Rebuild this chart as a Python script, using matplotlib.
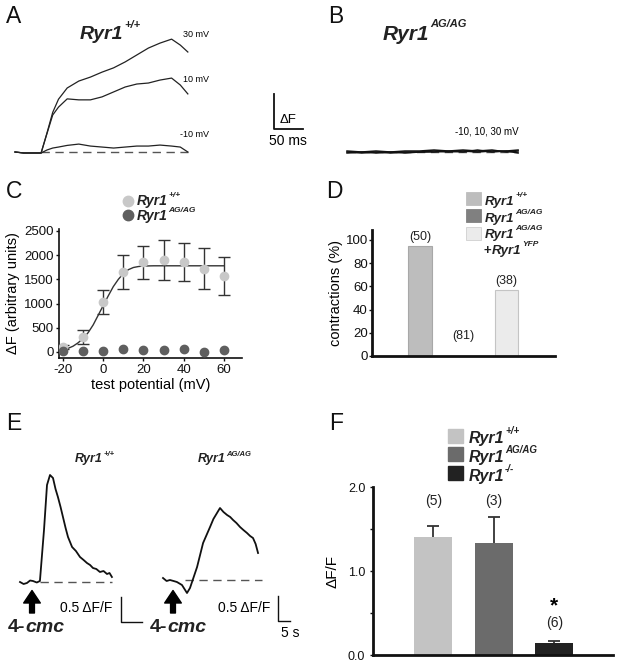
import matplotlib
matplotlib.use("Agg")
import matplotlib.pyplot as plt
from matplotlib.patches import Rectangle

W, H = 620, 663
plt.rcParams["font.family"] = ["Liberation Sans", "DejaVu Sans"]
plt.rcParams["axes.unicode_minus"] = False

# ---- A: Ca2+ transients, Ryr1+/+ (time in ms, dF in scale-bar units) ----
t_a = [0, 15, 30, 45, 55, 65, 75, 90, 110, 130, 150, 170, 190, 210, 230, 250, 270, 285, 298]
a_30mv = [0, -0.03, -0.03, -0.03, 0.57, 1.2, 1.6, 1.94, 2.15, 2.27, 2.42, 2.55, 2.73, 2.94,
          3.15, 3.30, 3.42, 3.24, 3.03]
a_10mv = [0, -0.03, -0.03, -0.03, 0.55, 1.12, 1.36, 1.61, 1.58, 1.58, 1.67, 1.82, 1.97, 2.06,
          2.09, 2.18, 2.24, 2.03, 1.76]
a_m10mv = [0, -0.03, -0.03, -0.03, 0.06, 0.12, 0.15, 0.2, 0.24, 0.18, 0.15, 0.12, 0.15, 0.18,
           0.18, 0.21, 0.18, 0.15, 0.0]

# ---- B: Ryr1 AG/AG, all three voltages flat ----
t_b = [0, 25, 50, 75, 100, 125, 150, 175, 200, 225, 250, 275, 295]
b_1 = [0.03, 0.0, 0.03, 0.0, 0.03, 0.03, 0.06, 0.03, 0.06, 0.03, 0.06, 0.0, 0.03]
b_2 = [0.0, -0.03, 0.0, -0.03, 0.0, 0.0, 0.03, 0.0, 0.03, 0.0, 0.03, 0.03, -0.03]
b_3 = [-0.03, 0.0, -0.03, 0.0, -0.03, 0.0, 0.0, 0.03, 0.0, 0.06, 0.0, 0.03, 0.06]

# ---- C: dF vs test potential ----
v_test = [-20, -10, 0, 10, 20, 30, 40, 50, 60]
f_wt = [110, 310, 1030, 1650, 1850, 1900, 1860, 1720, 1570]
f_wt_err = [40, 135, 240, 350, 335, 405, 400, 420, 400]
f_ag = [20, 20, 20, 70, 50, 40, 60, 10, 40]
fit_v = [-20, -17.5, -15, -12.5, -10, -7.5, -5, -2.5, 0, 2.5, 5, 7.5, 10, 12.5, 15, 17.5, 20,
         25, 30, 40, 50, 60]
fit_f = [40, 75, 120, 190, 280, 400, 560, 760, 960, 1160, 1350, 1500, 1620, 1700, 1745, 1765,
         1775, 1780, 1780, 1780, 1780, 1780]

# ---- D: contractions ----
d_vals = [95, 0, 57]
d_n = ["(50)", "(81)", "(38)"]
d_colors = ["#bdbdbd", "#808080", "#ebebeb"]

# ---- E: 4-cmc responses (time in s, dF/F) ----
t_e_wt = [0, 1.5, 2.9, 4.2, 5.4, 7.0, 8.3, 10.0, 11.25, 12.5, 13.75, 14.8, 15.8, 16.9, 17.9,
          19.0, 20, 21.7, 23.3, 25, 26.5, 27.9, 29.2, 30.4, 31.8, 33.3, 34.8, 36.25, 37.3, 38.3]
e_wt = [0, -0.04, -0.02, 0.03, 0.02, -0.01, 0.02, 1.04, 1.94, 2.14, 2.08, 1.86, 1.70, 1.50,
        1.30, 1.08, 0.90, 0.70, 0.62, 0.50, 0.44, 0.38, 0.34, 0.28, 0.26, 0.20, 0.22, 0.16,
        0.18, 0.10]
t_e_ag = [0, 1.5, 2.9, 4.4, 5.8, 7.9, 10, 11.25, 14.2, 16.7, 19.6, 21.0, 22.5, 23.75, 25.2,
          26.7, 28.0, 29.2, 30.6, 32.1, 33.5, 35, 36.3, 37.5, 38.6, 39.6]
e_ag = [0.08, 0.02, 0.04, 0.02, 0, -0.06, -0.22, -0.12, 0.30, 0.78, 1.10, 1.26, 1.38, 1.48,
        1.40, 1.34, 1.30, 1.24, 1.18, 1.10, 1.04, 0.98, 0.92, 0.88, 0.76, 0.58]

# ---- F: dF/F summary ----
f_labels = ["+/+", "AG/AG", "-/-"]
f_vals = [1.41, 1.33, 0.14]
f_err = [0.12, 0.31, 0.025]
f_n = ["(5)", "(3)", "(6)"]
f_colors = ["#c3c3c3", "#6b6b6b", "#222222"]


fig = plt.figure(figsize=(W / 100, H / 100), dpi=100)


def add_ax(left, top, right, bottom):
    ax = fig.add_axes([left / W, 1 - bottom / H, (right - left) / W, (bottom - top) / H])
    ax.patch.set_visible(False)
    return ax


def style_axis(ax, lw, labelsize, length, pad):
    for s in ("top", "right"):
        ax.spines[s].set_visible(False)
    for s in ("left", "bottom"):
        ax.spines[s].set_linewidth(lw)
        ax.spines[s].set_color("#111111")
    ax.tick_params(labelsize=labelsize, length=length, width=1, pad=pad, colors="#111111")


trace_kw = dict(color="#222222", lw=0.9)
dash_kw = dict(color="#555555", lw=1.0, dashes=(6, 4))

# panel A
A_T0, A_MSPX, A_BASE, A_UPX = 15, 50 / 29, 152, 33
axA = add_ax(10, 20, 320, 170)
axA.set_xlim((10 - A_T0) * A_MSPX, (320 - A_T0) * A_MSPX)
axA.set_ylim((A_BASE - 170) / A_UPX, (A_BASE - 20) / A_UPX)
axA.plot([t_a[3], t_a[-1]], [0, 0], **dash_kw)
for tr in (a_30mv, a_10mv, a_m10mv):
    axA.plot(t_a, tr, **trace_kw)
sb_x = (274 - A_T0) * A_MSPX
axA.plot([sb_x, sb_x, sb_x + 50], [1.75, 0.7, 0.7], color="#111111", lw=1.3)
axA.axis("off")

# panel B
axB = add_ax(330, 20, 620, 170)
axB.set_xlim((330 - 347) * A_MSPX, (620 - 347) * A_MSPX)
axB.set_ylim((A_BASE - 170) / A_UPX, (A_BASE - 20) / A_UPX)
axB.plot([t_b[0], t_b[-1]], [0, 0], **dash_kw)
for tr in (b_1, b_2, b_3):
    axB.plot(t_b, tr, color="#111111", lw=1.1)
axB.axis("off")

# panel C
axC = add_ax(59, 229, 242, 358)
axC.errorbar(v_test, f_wt, yerr=f_wt_err, fmt="none", ecolor="#333333", elinewidth=1,
             capsize=4.5, capthick=1, zorder=2)
axC.plot(fit_v, fit_f, color="#333333", lw=1, zorder=3)
axC.plot(v_test, f_wt, "o", ms=6, color="#c8c8c8", zorder=4)
axC.plot(v_test, f_ag, "o", ms=6, color="#5f5f5f", zorder=4)
axC.set_xlim(-22, 69)
axC.set_ylim(-124, 2540)
axC.set_xticks([-20, 0, 20, 40, 60])
axC.set_yticks([0, 500, 1000, 1500, 2000, 2500])
style_axis(axC, 1.2, 9.5, 2.5, 1.5)
axC.set_xlabel("test potential (mV)", fontsize=10.5, labelpad=2)
axC.set_ylabel("\u0394F (arbitrary units)", fontsize=10.5, labelpad=3)

# panel D
axD = add_ax(372, 230, 555, 356)
d_x = [1, 2, 3]
axD.bar(d_x, d_vals, width=0.55, color=d_colors,
        edgecolor=["#a8a8a8", "#808080", "#c4c4c4"], linewidth=0.8)
for x, v, n in zip(d_x, d_vals, d_n):
    y = v if v > 0 else 10
    axD.annotate(n, (x, y), xytext=(0, 4), textcoords="offset points", ha="center",
                 va="baseline", fontsize=9, color="#222222")
axD.set_xlim(-0.11, 4.12)
axD.set_ylim(0, 108.6)
axD.set_yticks([0, 20, 40, 60, 80, 100])
axD.set_xticks([])
style_axis(axD, 2, 9.5, 2, 1)
axD.set_ylabel("contractions (%)", fontsize=10.5, labelpad=2)

# panel E
E_PXS, E_BASE, E_PXU = 2.4, 582, 50
axE = add_ax(0, 440, 320, 663)
axE.set_xlim(0, 320 / E_PXS)
axE.set_ylim((E_BASE - 663) / E_PXU, (E_BASE - 440) / E_PXU)
off_wt, off_ag = 20 / E_PXS, 163 / E_PXS
axE.plot([40 / E_PXS, 112 / E_PXS], [0, 0], **dash_kw)
axE.plot([185 / E_PXS, 262 / E_PXS], [0.04, 0.04], **dash_kw)
axE.plot([t + off_wt for t in t_e_wt], e_wt, color="#111111", lw=1.3)
axE.plot([t + off_ag for t in t_e_ag], e_ag, color="#111111", lw=1.3)
bar1_x, bar2_x = 121 / E_PXS, 278 / E_PXS
axE.plot([bar1_x, bar1_x, 142 / E_PXS], [-0.3, -0.8, -0.8], color="#111111", lw=1)
axE.plot([bar2_x, bar2_x, bar2_x + 5], [-0.28, -0.78, -0.78], color="#111111", lw=1)
for ax_x in (32 / E_PXS, 173 / E_PXS):
    axE.annotate("", xy=(ax_x, -0.17), xytext=(ax_x, -0.62),
                 arrowprops=dict(width=3.5, headwidth=12, headlength=9, color="black"))
axE.axis("off")

# panel F
axF = add_ax(373, 487, 613, 655)
f_x = [1, 2, 3]
axF.bar(f_x, f_vals, width=0.63, color=f_colors, zorder=2)
axF.vlines(f_x, f_vals, [v + e for v, e in zip(f_vals, f_err)], color="#333333", lw=1.3,
           zorder=1)
axF.hlines([v + e for v, e in zip(f_vals, f_err)], [x - 0.1 for x in f_x],
           [x + 0.1 for x in f_x], color="#333333", lw=1.3)
for x, n, y in zip(f_x, f_n, [1.79, 1.79, 0.33]):
    axF.text(x, y, n, ha="center", va="baseline", fontsize=10, color="#222222")
axF.text(3, 0.52, "*", ha="center", va="baseline", fontsize=15, fontweight="bold")
axF.set_xlim(0, 3.97)
axF.set_ylim(0, 2.0)
axF.set_yticks([0, 0.5, 1.0, 1.5, 2.0])
axF.set_yticklabels(["0.0", "", "1.0", "", "2.0"])
axF.set_xticks([])
style_axis(axF, 2, 9, 2.5, 3)
axF.set_ylabel("\u0394F/F", fontsize=11, labelpad=6)

# overlay in figure pixels for labels and legends
ov = add_ax(0, 0, W, H)
ov.set_xlim(0, W)
ov.set_ylim(H, 0)
ov.axis("off")
renderer = fig.canvas.get_renderer()


def ryr(x, y, sup, size, sup_size, rise):
    t = ov.text(x, y, "Ryr1", fontsize=size, fontweight="bold", fontstyle="italic",
                va="baseline", color="#222222")
    x1 = t.get_window_extent(renderer).x1
    ov.text(x1 + 0.5, y - rise, sup, fontsize=sup_size, fontweight="bold",
            fontstyle="italic", va="baseline", color="#222222")


for letter, x, y in [("A", 6, 23), ("B", 328, 23), ("C", 6, 198), ("D", 326, 198),
                     ("E", 6, 430), ("F", 329, 430)]:
    ov.text(x, y, letter, fontsize=16.5, va="baseline", color="#111111")

# A / B texts
ryr(80, 39, "+/+", 14, 8, 11)
ryr(383, 40, "AG/AG", 15, 8, 13)
ov.text(183, 37, "30 mV", fontsize=6.5)
ov.text(183, 82, "10 mV", fontsize=6.5)
ov.text(180, 137, "-10 mV", fontsize=6.5)
ov.text(280, 123, "\u0394F", fontsize=9.5)
ov.text(269, 145, "50 ms", fontsize=10)
ov.text(455, 135, "-10, 10, 30 mV", fontsize=7)

# C legend
ov.plot([128], [200.5], "o", ms=7.5, color="#c8c8c8")
ov.plot([128], [215], "o", ms=7.5, color="#5f5f5f")
ryr(137, 205, "+/+", 10, 6, 8)
ryr(137, 220, "AG/AG", 10, 6, 8)

# D legend
for (y0, c, ec) in [(192, d_colors[0], d_colors[0]), (209, d_colors[1], d_colors[1]),
                    (227, d_colors[2], "#d0d0d0")]:
    ov.add_patch(Rectangle((466, y0), 15, 13, facecolor=c, edgecolor=ec, lw=0.6))
ryr(485, 205, "+/+", 9.5, 6, 8)
ryr(485, 222, "AG/AG", 9.5, 6, 8)
ryr(485, 238, "AG/AG", 9.5, 6, 8)
t = ov.text(484, 254, "+", fontsize=9.5, fontweight="bold", va="baseline", color="#222222")
ryr(t.get_window_extent(renderer).x1 + 0.5, 254, "YFP", 9.5, 6, 8)

# E texts
ryr(75, 462, "+/+", 9, 5.5, 6)
ryr(198, 462, "AG/AG", 9, 5.5, 6)
ov.text(60, 612, "0.5 \u0394F/F", fontsize=10, va="baseline")
ov.text(218, 612, "0.5 \u0394F/F", fontsize=10, va="baseline")
ov.text(281, 637, "5 s", fontsize=10, va="baseline")
for x in (8, 150):
    t = ov.text(x, 632, "4-", fontsize=14, fontweight="bold", va="baseline", color="#222222")
    ov.text(t.get_window_extent(renderer).x1, 632, "cmc", fontsize=14, fontweight="bold",
            fontstyle="italic", va="baseline", color="#222222")

# F legend
for y0, c in zip([429, 447, 466], f_colors):
    ov.add_patch(Rectangle((448, y0), 15, 14, facecolor=c, edgecolor=c))
for y, sup in zip([443, 462, 481], f_labels):
    ryr(469, y, sup, 11.5, 7, 9)

fig.savefig("out.png", dpi=100)
